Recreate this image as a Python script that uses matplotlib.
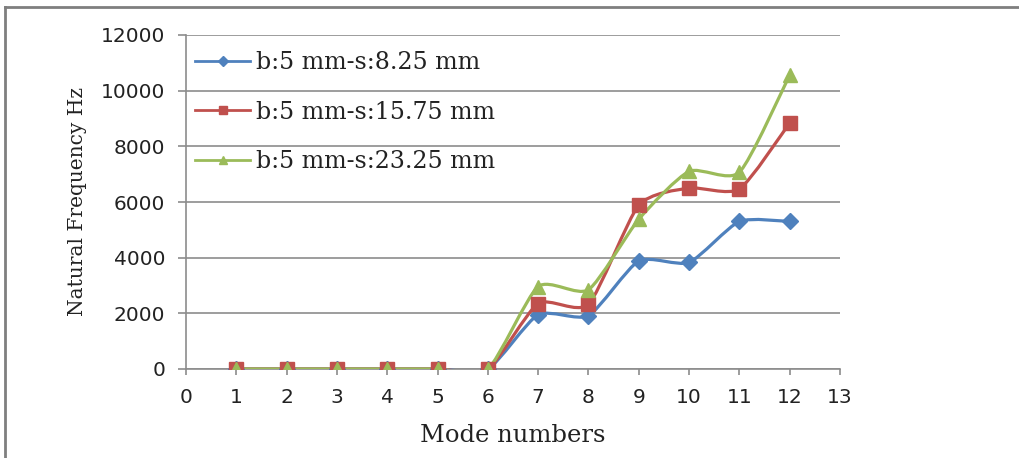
import matplotlib
matplotlib.use("Agg")
import matplotlib.pyplot as plt
from matplotlib.path import Path
from matplotlib.patches import PathPatch
from matplotlib.lines import Line2D
import numpy as np

modes = [1, 2, 3, 4, 5, 6, 7, 8, 9, 10, 11, 12]
s_8_25 = [0, 0, 0, 0, 0, 0, 1950, 1920, 3880, 3830, 5300, 5300]
s_15_75 = [0, 0, 0, 0, 0, 0, 2350, 2330, 5880, 6500, 6470, 8840]
s_23_25 = [0, 0, 0, 0, 0, 0, 2960, 2850, 5380, 7100, 7070, 10560]
labels = ["b:5 mm-s:8.25 mm", "b:5 mm-s:15.75 mm", "b:5 mm-s:23.25 mm"]
x_ticks = list(range(0, 14))
y_ticks = [0, 2000, 4000, 6000, 8000, 10000, 12000]

colors = ["#4F81BD", "#C0504D", "#9BBB59"]
markers = ["D", "s", "^"]
msizes = [8, 10, 10]

fig = plt.figure(figsize=(10.2, 4.58), dpi=100)
ax = fig.add_axes([186 / 1020, 1 - 369 / 458, (840 - 186) / 1020, (369 - 35) / 458])


def smooth_path(xs, ys, k=0.11):
    xs = np.asarray(xs, float)
    ys = np.asarray(ys, float)
    pts = np.column_stack([xs, ys])
    n = len(pts)
    verts = [pts[0]]
    codes = [Path.MOVETO]
    for i in range(n - 1):
        p0 = pts[i - 1] if i > 0 else pts[i]
        p1 = pts[i]
        p2 = pts[i + 1]
        p3 = pts[i + 2] if i + 2 < n else pts[i + 1]
        c1 = p1 + (p2 - p0) * k
        c2 = p2 - (p3 - p1) * k
        verts += [c1, c2, p2]
        codes += [Path.CURVE4] * 3
    return Path(verts, codes)


series = [s_8_25, s_15_75, s_23_25]
handles = []
for ys, c, m, ms, lab in zip(series, colors, markers, msizes, labels):
    patch = PathPatch(smooth_path(modes, ys), facecolor="none", edgecolor=c,
                      lw=2.3, zorder=3, capstyle="round", joinstyle="round")
    ax.add_patch(patch)
    ax.plot(modes, ys, ls="none", marker=m, ms=ms, color=c, mec=c, zorder=4)
    handles.append(Line2D([], [], color=c, lw=2.0, marker=m, ms=ms * 0.6, mec=c, label=lab))

ax.set_xlim(0, 13)
ax.set_ylim(0, 12000)
ax.set_xticks(x_ticks)
ax.set_yticks(y_ticks)
ax.set_xticklabels([str(v) for v in x_ticks])
ax.set_yticklabels([str(v) for v in y_ticks])

grid_c = "#8C8C8C"
ax.yaxis.grid(True, color=grid_c, lw=1.2, zorder=0)
ax.set_axisbelow(True)
for sp in ["top", "right"]:
    ax.spines[sp].set_visible(False)
for sp in ["left", "bottom"]:
    ax.spines[sp].set_color(grid_c)
    ax.spines[sp].set_linewidth(1.2)

ax.tick_params(axis="y", direction="out", length=6, width=1.2, color=grid_c, pad=9,
               labelsize=14.5, labelcolor="#222222")
ax.tick_params(axis="x", direction="out", length=4, width=1.2, color=grid_c, pad=10,
               labelsize=14.5, labelcolor="#222222")
for lbl in ax.get_xticklabels() + ax.get_yticklabels():
    lbl.set_fontfamily("DejaVu Sans")

ax.set_xlabel("Mode numbers", fontfamily="DejaVu Serif", fontsize=17.5, color="#222222", labelpad=12)
ax.set_ylabel("Natural Frequency Hz", fontfamily="DejaVu Serif", fontsize=14.5, color="#222222", labelpad=10)

leg = ax.legend(handles=handles, loc="upper left", bbox_to_anchor=(0.0, 0.979), frameon=False,
                prop={"family": "DejaVu Serif", "size": 17}, handlelength=2.3,
                handletextpad=0.26, labelspacing=1.11, borderaxespad=0.0,
                borderpad=0.4)
for t in leg.get_texts():
    t.set_color("#222222")

# figure frame (top and left edges)
fig.add_artist(Line2D([5 / 1020, 1.0], [1 - 7 / 458, 1 - 7 / 458], transform=fig.transFigure,
                      color="#7F7F7F", lw=2))
fig.add_artist(Line2D([5 / 1020, 5 / 1020], [0, 1 - 7 / 458], transform=fig.transFigure,
                      color="#7F7F7F", lw=2))

fig.savefig("out.png", dpi=100)
